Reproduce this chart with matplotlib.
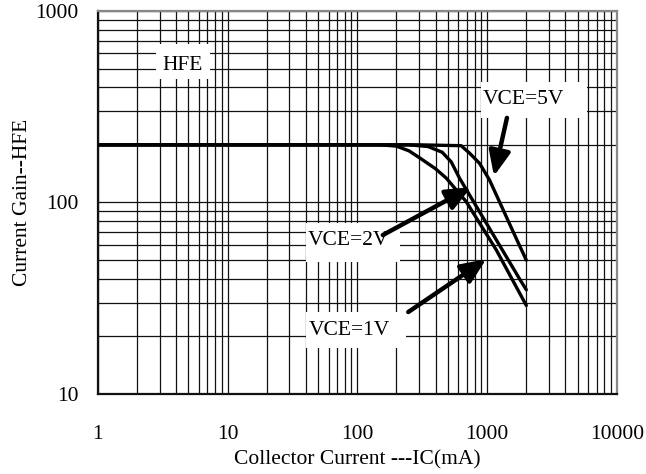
import matplotlib
matplotlib.use("Agg")
import matplotlib.pyplot as plt
from matplotlib.patches import Rectangle
from matplotlib.ticker import LogLocator, NullFormatter

# ---- data ----
ic_5v = [1, 100, 300, 630, 731, 874, 1042, 1671, 2000]
hfe_5v = [200, 200, 200, 198, 181, 160, 131, 65, 50]

ic_2v = [1, 250, 350, 450, 528, 612, 1771, 2000]
hfe_2v = [200, 200, 196, 183, 163, 134, 40, 35]

ic_1v = [1, 150, 200, 250, 302, 400, 484, 689, 1175, 2000]
hfe_1v = [200, 200, 197, 186, 171, 150, 134, 101, 56.5, 29]

x_ticks = [1, 10, 100, 1000, 10000]
x_tick_labels = ["1", "10", "100", "1000", "10000"]
y_ticks = [10, 100, 1000]
y_tick_labels = ["10", "100", "1000"]

plt.rcParams['font.family'] = ['Liberation Serif', 'DejaVu Serif']

fig = plt.figure(figsize=(6.46, 4.74), dpi=100)
ax = fig.add_axes([0.1512, 0.1688, 0.8040, 0.8080])
ax.set_xscale('log')
ax.set_yscale('log')
ax.set_xlim(1, 10000)
ax.set_ylim(10, 1000)

ax.set_xticks(x_ticks)
ax.set_xticklabels(x_tick_labels)
ax.set_yticks(y_ticks)
ax.set_yticklabels(y_tick_labels)
ax.xaxis.set_minor_locator(LogLocator(base=10, subs=range(2, 10), numticks=20))
ax.yaxis.set_minor_locator(LogLocator(base=10, subs=range(2, 10), numticks=20))
ax.xaxis.set_minor_formatter(NullFormatter())
ax.yaxis.set_minor_formatter(NullFormatter())
ax.tick_params(which='both', length=0)
ax.tick_params(axis='x', pad=22, labelsize=15.5)
ax.tick_params(axis='y', pad=14, labelsize=15.5)

ax.grid(True, which='both', color='#111111', linewidth=0.9)
ax.set_axisbelow(True)

for s in ['left', 'bottom']:
    ax.spines[s].set_linewidth(1.6)
    ax.spines[s].set_color('#111111')
for s in ['top', 'right']:
    ax.spines[s].set_linewidth(1.6)
    ax.spines[s].set_color('#888888')

lw = 2.4
for xs, ys in [(ic_5v, hfe_5v), (ic_2v, hfe_2v), (ic_1v, hfe_1v)]:
    ax.plot(xs, ys, color='black', lw=lw, zorder=5,
            solid_capstyle='round', solid_joinstyle='round')

ax.set_xlabel("Collector Current ---IC(mA)", fontsize=15.5, labelpad=5)
ax.set_ylabel("Current Gain--HFE", fontsize=15.5, labelpad=2)

# label boxes (axes fraction)
boxes = [
    ("HFE", 0.112, 0.822, 0.216, 0.914, 0.164, 0.858),
    ("VCE=5V", 0.738, 0.721, 0.942, 0.815, 0.819, 0.770),
    ("VCE=2V", 0.401, 0.345, 0.582, 0.446, 0.482, 0.400),
    ("VCE=1V", 0.401, 0.120, 0.594, 0.214, 0.484, 0.167),
]
for txt, x0, y0, x1, y1, tx, ty in boxes:
    ax.add_patch(Rectangle((x0, y0), x1 - x0, y1 - y0, transform=ax.transAxes,
                           facecolor='white', edgecolor='none', zorder=3))
    ax.text(tx, ty, txt, transform=ax.transAxes, ha='center', va='center',
            fontsize=15.5, zorder=6)

arrows = [
    (0.788, 0.721, 0.763, 0.569),
    (0.549, 0.415, 0.719, 0.540),
    (0.598, 0.214, 0.748, 0.352),
]
for x0, y0, x1, y1 in arrows:
    ax.annotate("", xy=(x1, y1), xycoords='axes fraction',
                xytext=(x0, y0), textcoords='axes fraction',
                arrowprops=dict(arrowstyle='-|>,head_length=1.5,head_width=0.65',
                                color='black', lw=3.2, shrinkA=0, shrinkB=0),
                zorder=7)

fig.savefig("out.png", dpi=100)
